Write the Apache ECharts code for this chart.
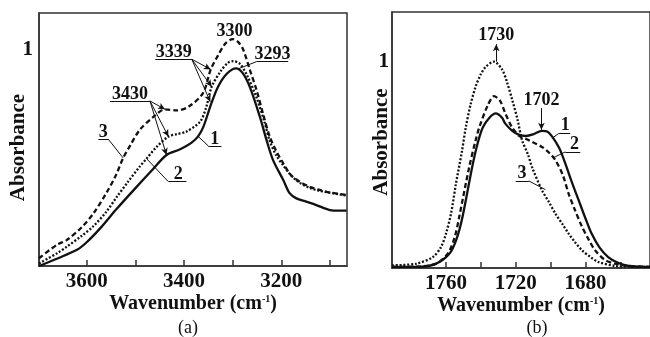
<!DOCTYPE html>
<html><head><meta charset="utf-8">
<script src="https://cdn.jsdelivr.net/npm/echarts@6/dist/echarts.min.js"></script>
<style>html,body{margin:0;padding:0;background:#fff}#c{width:650px;height:337px}</style>
</head><body><div id="c"></div>
<script>
const ticksA = [3600,3500,3400,3300,3200,3100];
const labelsA = [3600,3400,3200];
const ticksB = [1760,1740,1720,1700,1680,1660];
const labelsB = [1760,1720,1680];
const yLabels = [1];

const curveA1 = [[3698,0.0],[3660,0.035],[3620,0.075],[3600,0.11],[3570,0.18],[3540,0.26],[3504,0.35],[3463,0.45],[3436,0.514],[3408,0.54],[3385,0.57],[3371,0.6],[3360,0.645],[3345,0.745],[3330,0.83],[3312,0.89],[3293,0.915],[3280,0.895],[3265,0.83],[3244,0.69],[3230,0.58],[3217,0.49],[3196,0.398],[3183,0.337],[3169,0.313],[3149,0.298],[3128,0.282],[3100,0.259],[3080,0.256],[3066,0.256]];
const curveA2 = [[3698,0.012],[3660,0.06],[3641,0.089],[3610,0.14],[3586,0.185],[3560,0.25],[3538,0.32],[3515,0.39],[3491,0.46],[3477,0.497],[3456,0.552],[3432,0.599],[3415,0.61],[3395,0.622],[3367,0.668],[3355,0.73],[3343,0.83],[3325,0.9],[3310,0.94],[3299,0.948],[3285,0.935],[3270,0.88],[3251,0.78],[3235,0.67],[3224,0.58],[3210,0.51],[3196,0.465],[3180,0.42],[3162,0.385],[3140,0.36],[3121,0.348],[3066,0.326]];
const curveA3 = [[3698,0.036],[3660,0.1],[3641,0.12],[3610,0.18],[3586,0.244],[3559,0.34],[3540,0.42],[3525,0.5],[3510,0.56],[3491,0.63],[3463,0.69],[3439,0.725],[3415,0.72],[3390,0.738],[3361,0.8],[3345,0.91],[3330,0.975],[3315,1.03],[3300,1.05],[3288,1.035],[3278,1.0],[3265,0.91],[3251,0.815],[3237,0.7],[3224,0.6],[3210,0.53],[3196,0.475],[3180,0.42],[3162,0.39],[3140,0.365],[3121,0.352],[3100,0.34],[3066,0.329]];

const curveB1 = [[1791,0.005],[1777,0.005],[1766,0.02],[1758,0.07],[1754,0.14],[1750.5,0.25],[1745,0.49],[1742,0.6],[1739,0.68],[1735,0.73],[1731.5,0.75],[1728,0.73],[1726,0.70],[1722,0.665],[1718,0.645],[1714,0.64],[1710,0.648],[1705,0.665],[1702,0.662],[1699,0.636],[1695,0.58],[1691.6,0.507],[1688,0.42],[1684,0.33],[1680,0.24],[1676.5,0.167],[1672,0.1],[1667,0.053],[1662,0.028],[1657,0.013],[1650,0.006],[1643,0.005]];
const curveB2 = [[1791,0.005],[1777,0.007],[1766,0.02],[1759,0.07],[1755,0.15],[1752.4,0.25],[1746.7,0.49],[1743,0.62],[1741,0.68],[1736,0.79],[1732.5,0.833],[1729,0.81],[1726,0.75],[1722,0.68],[1718,0.64],[1714,0.625],[1710.7,0.612],[1705,0.587],[1701,0.56],[1697.3,0.523],[1693,0.45],[1689.7,0.361],[1686,0.28],[1682,0.2],[1678,0.135],[1674.5,0.086],[1669,0.04],[1663,0.021],[1655,0.01],[1643,0.005]];
const curveB3 = [[1791,0.013],[1777,0.021],[1767.6,0.053],[1763,0.1],[1760,0.167],[1757,0.27],[1754.3,0.41],[1751,0.56],[1748.6,0.685],[1746,0.79],[1743,0.88],[1740,0.94],[1737.2,0.976],[1732.5,1.0],[1727.7,0.96],[1725,0.9],[1722,0.814],[1719,0.72],[1716.4,0.62],[1713,0.55],[1710.7,0.49],[1705,0.377],[1701,0.32],[1697.3,0.264],[1693,0.21],[1689.7,0.167],[1686,0.125],[1682,0.086],[1677,0.052],[1672.6,0.029],[1663,0.01],[1655,0.006],[1643,0.005]];

const textA = [['3300',3296,1.085],['3339',3421,0.99],['3430',3511,0.795],['3293',3218,0.98],['3',3566,0.62],['1',3337,0.585],['2',3412,0.422]];
const linesA = [
 [[3459,0.957],[3384,0.957],0],[[3384,0.957],[3345,0.91],1],[[3384,0.957],[3343,0.83],1],[[3384,0.957],[3346,0.76],1],
 [[3552,0.764],[3470,0.764],0],[[3470,0.764],[3439,0.725],1],[[3470,0.764],[3432,0.599],1],[[3470,0.764],[3436,0.514],1],
 [[3251,0.946],[3186,0.946],0],[[3251,0.946],[3289,0.912],0],
 [[3576,0.588],[3556,0.588],0],[[3556,0.588],[3525,0.5],0],
 [[3350,0.556],[3323,0.556],0],[[3350,0.556],[3371,0.6],0],
 [[3432,0.39],[3395,0.39],0],[[3432,0.39],[3477,0.497],0]
];
const textB = [['1730',1731.2,1.13],['1702',1705.3,0.815],['1',1691.6,0.69],['2',1686.3,0.598],['3',1716.4,0.46]];
const linesB = [
 [[1731.2,1.0],[1731.2,1.085],1],[[1705.3,0.775],[1705.3,0.67],1],
 [[1695.4,0.652],[1688.8,0.652],0],[[1695.4,0.652],[1699.3,0.628],0],
 [[1691.6,0.563],[1683,0.563],0],[[1691.6,0.563],[1698.3,0.535],0],
 [[1720,0.422],[1712.5,0.422],0],[[1712.5,0.422],[1703,0.38],0]
];

const FF = '"Liberation Serif", "Times New Roman", serif';
const INK = '#111';
const AX = '#333';

function mkX(gi, min, max, ticks, labels){
  return {
    gridIndex: gi, type:'value', inverse:true, min:min, max:max,
    splitLine:{show:false},
    axisLine:{show:true, onZero:false, lineStyle:{color:AX, width:1.5}},
    axisTick:{show:true, inside:true, length:6, customValues:ticks, lineStyle:{color:AX, width:1.5}},
    axisLabel:{customValues:labels, formatter:v=>String(v), margin:5, fontFamily:FF, fontWeight:'bold', fontSize:21, color:INK},
    name:'{n|Wavenumber (cm}{s|-1}{n|)}', nameLocation:'middle', nameGap:28, nameMoveOverlap:false,
    nameTextStyle:{rich:{
      n:{fontFamily:FF, fontWeight:'bold', fontSize:20, color:INK, lineHeight:20},
      s:{fontFamily:FF, fontWeight:'bold', fontSize:10, color:INK, verticalAlign:'top', lineHeight:20}
    }}
  };
}
function mkY(gi, max, margin, gap, pad){
  return {
    gridIndex: gi, type:'value', min:0, max:max,
    splitLine:{show:false},
    axisLine:{show:true, lineStyle:{color:AX, width:1.5}},
    axisTick:{show:false},
    axisLabel:{customValues:yLabels, formatter:v=>String(v), margin:margin, fontFamily:FF, fontWeight:'bold', fontSize:21, color:INK},
    name:'Absorbance', nameLocation:'middle', nameRotate:90, nameGap:gap, nameMoveOverlap:false,
    nameTextStyle:{fontFamily:FF, fontWeight:'bold', fontSize:21, color:INK, padding:pad}
  };
}
function curve(gi, data, type, width){
  return {type:'line', xAxisIndex:gi, yAxisIndex:gi, data:data, smooth:0.3, showSymbol:false, symbol:'none',
    lineStyle:{color:INK, width:width, type:type}, silent:true, z:3};
}
function annot(gi, texts, lines){
  return {type:'line', xAxisIndex:gi, yAxisIndex:gi, data:[], silent:true, z:4,
    markLine:{silent:true, animation:false, symbol:['none','none'], label:{show:false},
      lineStyle:{color:INK, width:1, type:'solid'},
      data: lines.map(([a,b,ar]) => [{coord:a, symbol:'none'},{coord:b, symbol: ar?'arrow':'none', symbolSize: ar?[5,7]:1}])},
    markPoint:{silent:true, animation:false, symbol:'rect', symbolSize:1, itemStyle:{color:'rgba(0,0,0,0)'},
      label:{show:true, position:'inside', formatter:'{b}', fontFamily:FF, fontWeight:'bold', fontSize:18, color:INK},
      data: texts.map(([t,x,y]) => ({name:t, coord:[x,y]}))}
  };
}

const DASH = [5,3], DOT = [2,1.8];
const chart = echarts.init(document.getElementById('c'), null, {renderer:'canvas'});
chart.setOption({
  animation:false,
  backgroundColor:'#fff',
  grid:[
    {left:39, top:13, width:308, height:253, show:true, borderColor:AX, borderWidth:1.5, backgroundColor:'transparent'},
    {left:392, top:12, width:260, height:256, show:true, borderColor:AX, borderWidth:1.5, backgroundColor:'transparent'}
  ],
  xAxis:[mkX(0, 3065, 3698, ticksA, labelsA), mkX(1, 1643, 1791, ticksB, labelsB)],
  yAxis:[mkY(0, 1.171, 6, 10, [0,16,0,0]), mkY(1, 1.241, 3, 0, [0,4,0,0])],
  series:[
    curve(0, curveA1, 'solid', 2.3),
    curve(0, curveA2, DOT, 2.3),
    curve(0, curveA3, DASH, 2.3),
    curve(1, curveB1, 'solid', 2.3),
    curve(1, curveB2, DASH, 2.3),
    curve(1, curveB3, DOT, 2.3),
    annot(0, textA, linesA),
    annot(1, textB, linesB)
  ],
  graphic:[
    {type:'text', x:188, y:328, style:{text:'(a)', align:'center', verticalAlign:'middle', font:'18px '+FF, fill:INK}},
    {type:'text', x:537, y:328, style:{text:'(b)', align:'center', verticalAlign:'middle', font:'18px '+FF, fill:INK}}
  ]
});
</script></body></html>
